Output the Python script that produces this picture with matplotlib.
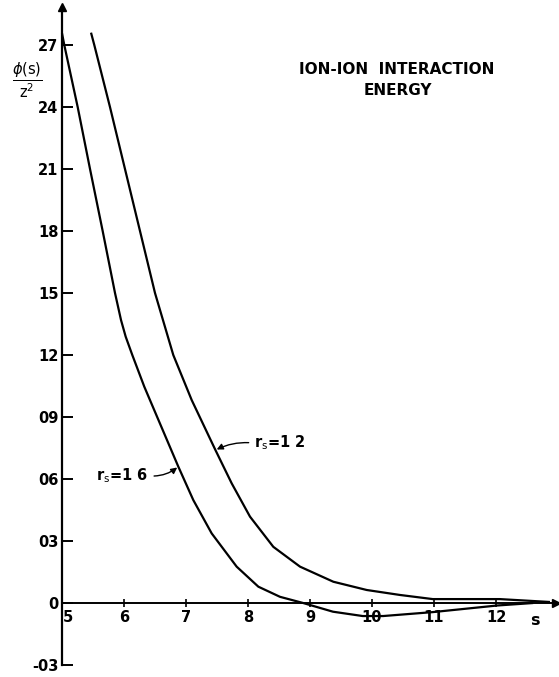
import matplotlib
matplotlib.use("Agg")
import matplotlib.pyplot as plt
from matplotlib.transforms import ScaledTranslation

plt.rcParams['font.family'] = ['DejaVu Sans']

# Ion-ion interaction energy phi(s)/z^2 versus separation s, for two r_s values
s_rs16 = [5.00, 5.037, 5.253, 5.452, 5.656, 5.855, 5.952, 6.027, 6.134, 6.327,
          6.419, 6.876, 7.118, 7.414, 7.817, 8.167, 8.516, 8.89,
          9.37, 9.85, 10.18, 10.98, 12.02, 12.60]
phi_rs16 = [0.2757, 0.270, 0.240, 0.210, 0.180, 0.150, 0.1369, 0.1289, 0.120, 0.1047,
            0.0982, 0.0660, 0.0498, 0.0337, 0.0176, 0.0079, 0.0030, 0.0,
            -0.0042, -0.0063, -0.0063, -0.0044, -0.0012, 0.0]

s_rs12 = [5.468, 5.521, 5.774, 6.016, 6.258, 6.500, 6.795, 7.092, 7.475,
          7.737, 8.032, 8.408, 8.839, 9.376, 9.915, 10.45, 10.98, 12.06, 12.87]
phi_rs12 = [0.2760, 0.270, 0.240, 0.210, 0.180, 0.150, 0.120, 0.0982, 0.0740,
            0.0579, 0.0418, 0.0272, 0.0176, 0.0103, 0.0063, 0.0039, 0.0019,
            0.0019, 0.0005]

y_ticks = [0.27, 0.24, 0.21, 0.18, 0.15, 0.12, 0.09, 0.06, 0.03, 0.0, -0.03]
y_tick_labels = ["27", "24", "21", "18", "15", "12", "09", "06", "03", "0", "-03"]
x_ticks = [5, 6, 7, 8, 9, 10, 11, 12]
x_tick_labels = ["5", "6", "7", "8", "9", "10", "11", "12"]

fig = plt.figure(figsize=(5.59, 6.77), dpi=100)
ax = fig.add_axes([0, 0, 1, 1])
ax.set_xlim(4.0, 13.016)
ax.set_ylim(-0.0358, 0.2918)

ink = "black"
ax.plot(s_rs16, phi_rs16, color=ink, lw=1.6, solid_capstyle="butt",
        solid_joinstyle="round")
ax.plot(s_rs12, phi_rs12, color=ink, lw=1.6, solid_capstyle="butt",
        solid_joinstyle="round")

# axes drawn through the origin (s=5, phi=0)
for side in ("top", "right"):
    ax.spines[side].set_visible(False)
ax.spines["left"].set_position(("data", 5))
ax.spines["bottom"].set_position(("data", 0))
ax.spines["left"].set_bounds(-0.03, 0.2885)
ax.spines["bottom"].set_bounds(5, 12.95)
ax.spines["left"].set_linewidth(1.6)
ax.spines["bottom"].set_linewidth(1.4)

ax.plot(5, 0.2885, marker="^", color=ink, markersize=6, clip_on=False)
ax.plot(12.97, 0, marker=">", color=ink, markersize=6, clip_on=False)

ax.set_yticks(y_ticks)
ax.set_yticklabels(y_tick_labels)
ax.set_xticks(x_ticks)
ax.set_xticklabels(x_tick_labels)
ax.tick_params(axis="y", direction="in", length=8, width=1.4, pad=-4, labelsize=10.5)
ax.tick_params(axis="x", direction="inout", length=6, width=1.2, pad=2, labelsize=10.5)
for lbl in ax.get_yticklabels():
    lbl.set_horizontalalignment("right")
    lbl.set_fontweight("bold")
    lbl.set_transform(lbl.get_transform() + ScaledTranslation(-0.09, 0, fig.dpi_scale_trans))
for lbl in ax.get_xticklabels():
    lbl.set_fontweight("bold")
first = ax.get_xticklabels()[0]
first.set_transform(first.get_transform() + ScaledTranslation(0.06, 0, fig.dpi_scale_trans))

ax.text(27, 677 - 80, r"$\frac{\phi(\mathrm{s})}{\mathrm{z}^2}$", transform=None,
        fontsize=15, ha="center", va="center")
ax.text(12.63, -0.0085, "s", fontsize=11.5, fontweight="bold", ha="center", va="center")

ax.text(0.71, 0.898, "ION-ION  INTERACTION", transform=ax.transAxes,
        fontsize=11, fontweight="bold", ha="center", va="center")
ax.text(0.712, 0.866, "ENERGY", transform=ax.transAxes,
        fontsize=11, fontweight="bold", ha="center", va="center")

ax.annotate(r"r$_\mathrm{s}$=1 2", xy=(7.475, 0.0740), xytext=(8.516, 0.0774),
            fontsize=10.5, fontweight="bold", ha="center", va="center",
            arrowprops=dict(arrowstyle="-|>", color=ink, lw=1.0, relpos=(0.0, 0.5),
                            connectionstyle="arc3,rad=0.15", shrinkA=2, shrinkB=1,
                            mutation_scale=9))
ax.annotate(r"r$_\mathrm{s}$=1 6", xy=(6.876, 0.0660), xytext=(5.976, 0.0615),
            fontsize=10.5, fontweight="bold", ha="center", va="center",
            arrowprops=dict(arrowstyle="-|>", color=ink, lw=1.0, relpos=(1.0, 0.5),
                            connectionstyle="arc3,rad=0.2", shrinkA=2, shrinkB=1,
                            mutation_scale=9))

fig.savefig("out.png", dpi=100)
